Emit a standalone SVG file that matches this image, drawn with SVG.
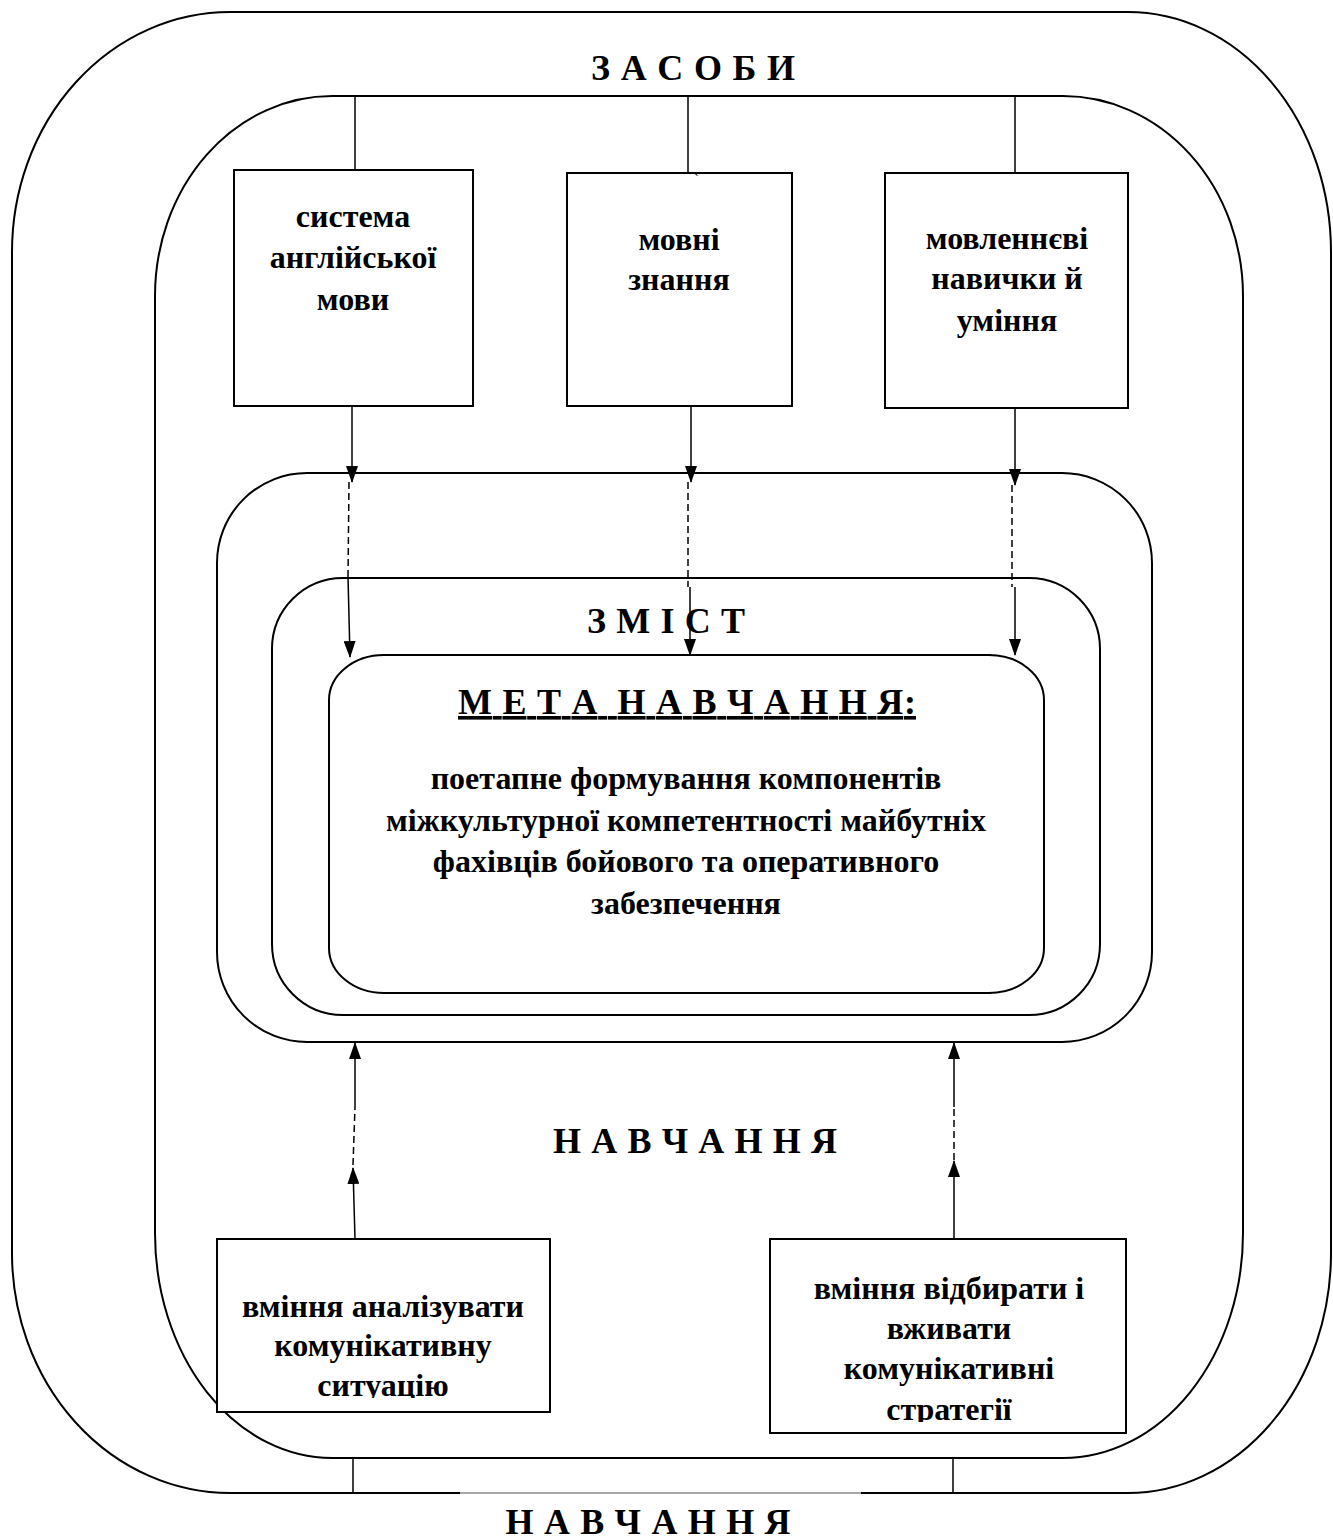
<svg xmlns="http://www.w3.org/2000/svg" width="1333" height="1540" viewBox="0 0 1333 1540">
<style>
  .frame{fill:none;stroke:#000;stroke-width:2}
  .box{fill:#fff;stroke:#000;stroke-width:2}
  .conn{fill:none;stroke:#000;stroke-width:1.5}
  .dash{fill:none;stroke:#000;stroke-width:1.5;stroke-dasharray:7 4}
  .t{font-family:"Liberation Serif","Times New Roman",serif;font-weight:bold;font-size:32px;text-anchor:middle;fill:#000}
  .h{font-family:"Liberation Serif","Times New Roman",serif;font-weight:bold;font-size:36px;text-anchor:middle;fill:#000}
</style>
<defs>
  <marker id="ahd" markerUnits="userSpaceOnUse" markerWidth="17" markerHeight="12" viewBox="0 0 17 12" refX="16" refY="6" orient="auto">
    <path d="M0,0 L17,6 L0,12 Z" fill="#000"/>
  </marker>
  <clipPath id="clip4"><rect x="217" y="1239" width="333" height="159"/></clipPath>
  <clipPath id="clip5"><rect x="770" y="1239" width="356" height="183"/></clipPath>
</defs>
<rect width="1333" height="1540" fill="#fff"/>

<g id="outer-zasoby">
  <path class="frame" d="M460,1493 L230,1493 A218,240 0 0 1 12,1253 L12,252 A218,240 0 0 1 230,12 L1128,12 A203,240 0 0 1 1331,252 L1331,1253 A203,240 0 0 1 1128,1493 L861,1493"/>
  <line x1="460" y1="1493" x2="861" y2="1493" stroke="#8a8a8a" stroke-width="1.3"/>
  <text class="h" x="693" y="80" textLength="204" lengthAdjust="spacing">З А С О Б И</text>
</g>

<g id="inner-navchannia">
  <path class="frame" d="M332,96 L1063,96 A180,200 0 0 1 1243,296 L1243,1233 A180,225 0 0 1 1063,1458 L332,1458 A177,225 0 0 1 155,1233 L155,296 A177,200 0 0 1 332,96 Z"/>
  <text class="h" x="695" y="1153" textLength="284" lengthAdjust="spacing">Н А В Ч А Н Н Я</text>
</g>

<g id="label-navchannia-bottom">
  <text class="h" x="648" y="1534" textLength="285" lengthAdjust="spacing">Н А В Ч А Н Н Я</text>
</g>

<g id="shape-outer-zmist">
  <rect class="frame" x="217" y="473" width="935" height="569" rx="90" ry="90"/>
</g>

<g id="shape-zmist">
  <rect class="frame" x="272" y="578" width="828" height="437" rx="71" ry="71"/>
  <text class="h" x="666" y="633" textLength="158" lengthAdjust="spacing">З М І С Т</text>
</g>

<g id="meta">
  <rect class="frame" x="329" y="655" width="715" height="338" rx="55" ry="45"/>
  <text class="h" x="687" y="714" textLength="458" lengthAdjust="spacing" text-decoration="underline" xml:space="preserve">М Е Т А  Н А В Ч А Н Н Я:</text>
  <text class="t" x="686" y="789">поетапне формування компонентів</text>
  <text class="t" x="686" y="831">міжкультурної компетентності майбутніх</text>
  <text class="t" x="686" y="872">фахівців бойового та оперативного</text>
  <text class="t" x="686" y="914">забезпечення</text>
</g>

<g id="box-systema">
  <rect class="box" x="234" y="170" width="239" height="236"/>
  <text class="t" x="353" y="227">система</text>
  <text class="t" x="353" y="268">англійської</text>
  <text class="t" x="353" y="310">мови</text>
</g>

<g id="box-movni">
  <rect class="box" x="567" y="173" width="225" height="233"/>
  <text class="t" x="679" y="250">мовні</text>
  <text class="t" x="679" y="290">знання</text>
  <text x="693" y="186" style="font-family:'Liberation Serif',serif;font-size:18px">`</text>
</g>

<g id="box-movlennievi">
  <rect class="box" x="885" y="173" width="243" height="235"/>
  <text class="t" x="1007" y="249">мовленнєві</text>
  <text class="t" x="1007" y="289">навички й</text>
  <text class="t" x="1007" y="331">уміння</text>
</g>

<g id="box-analizuvaty">
  <rect class="box" x="217" y="1239" width="333" height="173"/>
  <g clip-path="url(#clip4)">
    <text class="t" x="383" y="1317">вміння аналізувати</text>
    <text class="t" x="383" y="1356">комунікативну</text>
    <text class="t" x="383" y="1396">ситуацію</text>
  </g>
</g>

<g id="box-vidbyraty">
  <rect class="box" x="770" y="1239" width="356" height="194"/>
  <g clip-path="url(#clip5)">
    <text class="t" x="949" y="1299">вміння відбирати і</text>
    <text class="t" x="949" y="1339">вживати</text>
    <text class="t" x="949" y="1379">комунікативні</text>
    <text class="t" x="949" y="1420">стратегії</text>
  </g>
</g>

<g id="connectors">
  <line class="conn" x1="355" y1="96" x2="355" y2="170"/>
  <line class="conn" x1="688" y1="96" x2="688" y2="172"/>
  <line class="conn" x1="1015" y1="96" x2="1015" y2="173"/>
  <line class="conn" x1="353" y1="1458" x2="353" y2="1493"/>
  <line class="conn" x1="953" y1="1458" x2="953" y2="1493"/>
  <line class="conn" x1="352" y1="406" x2="352" y2="482" marker-end="url(#ahd)"/>
  <line class="dash" x1="349" y1="482" x2="348" y2="577"/>
  <line class="conn" x1="348" y1="577" x2="350" y2="657" marker-end="url(#ahd)"/>
  <line class="conn" x1="691" y1="406" x2="691" y2="482" marker-end="url(#ahd)"/>
  <line class="dash" x1="688" y1="482" x2="688" y2="587"/>
  <line class="conn" x1="690" y1="587" x2="690" y2="655" marker-end="url(#ahd)"/>
  <line class="conn" x1="1015" y1="408" x2="1015" y2="485" marker-end="url(#ahd)"/>
  <line class="dash" x1="1012" y1="485" x2="1012" y2="587"/>
  <line class="conn" x1="1015" y1="587" x2="1015" y2="655" marker-end="url(#ahd)"/>
  <line class="conn" x1="355" y1="1239" x2="353" y2="1168" marker-end="url(#ahd)"/>
  <line class="dash" x1="353" y1="1165" x2="355" y2="1107"/>
  <line class="conn" x1="355" y1="1107" x2="355" y2="1043" marker-end="url(#ahd)"/>
  <line class="conn" x1="954" y1="1239" x2="954" y2="1161" marker-end="url(#ahd)"/>
  <line class="dash" x1="954" y1="1160" x2="954" y2="1107"/>
  <line class="conn" x1="954" y1="1107" x2="954" y2="1043" marker-end="url(#ahd)"/>
</g>
</svg>
